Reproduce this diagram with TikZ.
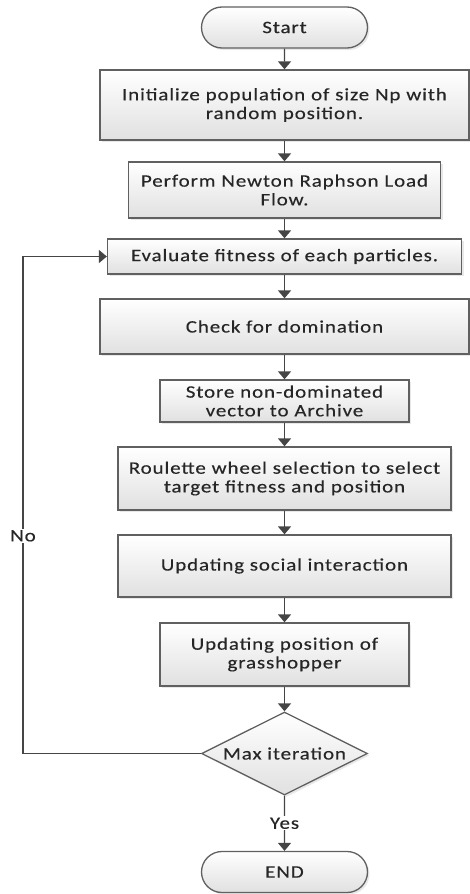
\documentclass[tikz,border=0pt]{standalone}
\usepackage{fontspec}
\setmainfont{Carlito}[FakeStretch=1.2, LetterSpace=5, FakeBold=0.3]
\usetikzlibrary{shapes.geometric,shapes.misc,arrows.meta,shadows}
\definecolor{edgec}{HTML}{606060}
\definecolor{linec}{HTML}{454545}
\definecolor{txtc}{HTML}{262626}
\begin{document}
\begin{tikzpicture}[x=1pt,y=-1pt,
  every node/.style={font=\fontsize{17.5}{18.7}\selectfont, text=txtc},
  boxbase/.style={draw=edgec, line width=1.3pt, top color=white, bottom color=black!12,
     drop shadow={opacity=0.18, shadow xshift=2pt, shadow yshift=-2pt}},
  procbox/.style={boxbase, rectangle, align=center, inner sep=0pt},
  termbox/.style={boxbase, rounded rectangle, minimum width=166pt, minimum height=41pt, inner sep=0pt},
  decbox/.style={boxbase, diamond, minimum width=166pt, minimum height=83pt, aspect=2, inner sep=0pt},
  flow/.style={draw=linec, line width=1.4pt, -{Triangle[width=13pt,length=8pt]}},
  lbl/.style={fill=white, inner sep=1.5pt}
]
\useasboundingbox (0,0) rectangle (469,894);
\node[termbox] (start) at (284.5,27.5) {Start};
\node[procbox, minimum width=369pt, minimum height=70pt, text width=362pt] (init) at (284.5,105) {Initialize population of size Np with\\random position.};
\node[procbox, minimum width=312pt, minimum height=56pt, text width=308pt] (nr) at (284.5,190) {Perform Newton Raphson Load\\Flow.};
\node[procbox, minimum width=354pt, minimum height=35pt] (eval) at (284.5,256.5) {Evaluate fitness of each particles.};
\node[procbox, minimum width=369pt, minimum height=55pt] (dom) at (284.5,326.5) {Check for domination};
\node[procbox, minimum width=249pt, minimum height=42pt, text width=246pt] (store) at (284.5,401) {Store non-dominated\\vector to Archive};
\node[procbox, minimum width=333pt, minimum height=63pt, text width=331pt] (roul) at (284.5,478.5) {Roulette wheel selection to select\\target fitness and position};
\node[procbox, minimum width=333pt, minimum height=62pt] (soc) at (284.5,566) {Updating social interaction};
\node[procbox, minimum width=249pt, minimum height=63pt, text width=246pt] (upd) at (284.5,654.5) {Updating position of\\grasshopper};
\node[decbox] (dec) at (284.5,753.5) {Max iteration};
\node[termbox] (end) at (284.5,872) {END};
\coordinate (lc) at (23,753.5);
\draw[flow] (start) -- (init);
\draw[flow] (init) -- (nr);
\draw[flow] (nr) -- (eval);
\draw[flow] (eval) -- (dom);
\draw[flow] (dom) -- (store);
\draw[flow] (store) -- (roul);
\draw[flow] (roul) -- (soc);
\draw[flow] (soc) -- (upd);
\draw[flow] (upd) -- (dec);
\draw[flow] (dec.west) -- (lc) |- (eval.west) node[pos=0.219, lbl] {No};
\draw[flow] (dec) -- (end) node[midway, lbl] {Yes};
\end{tikzpicture}
\end{document}
